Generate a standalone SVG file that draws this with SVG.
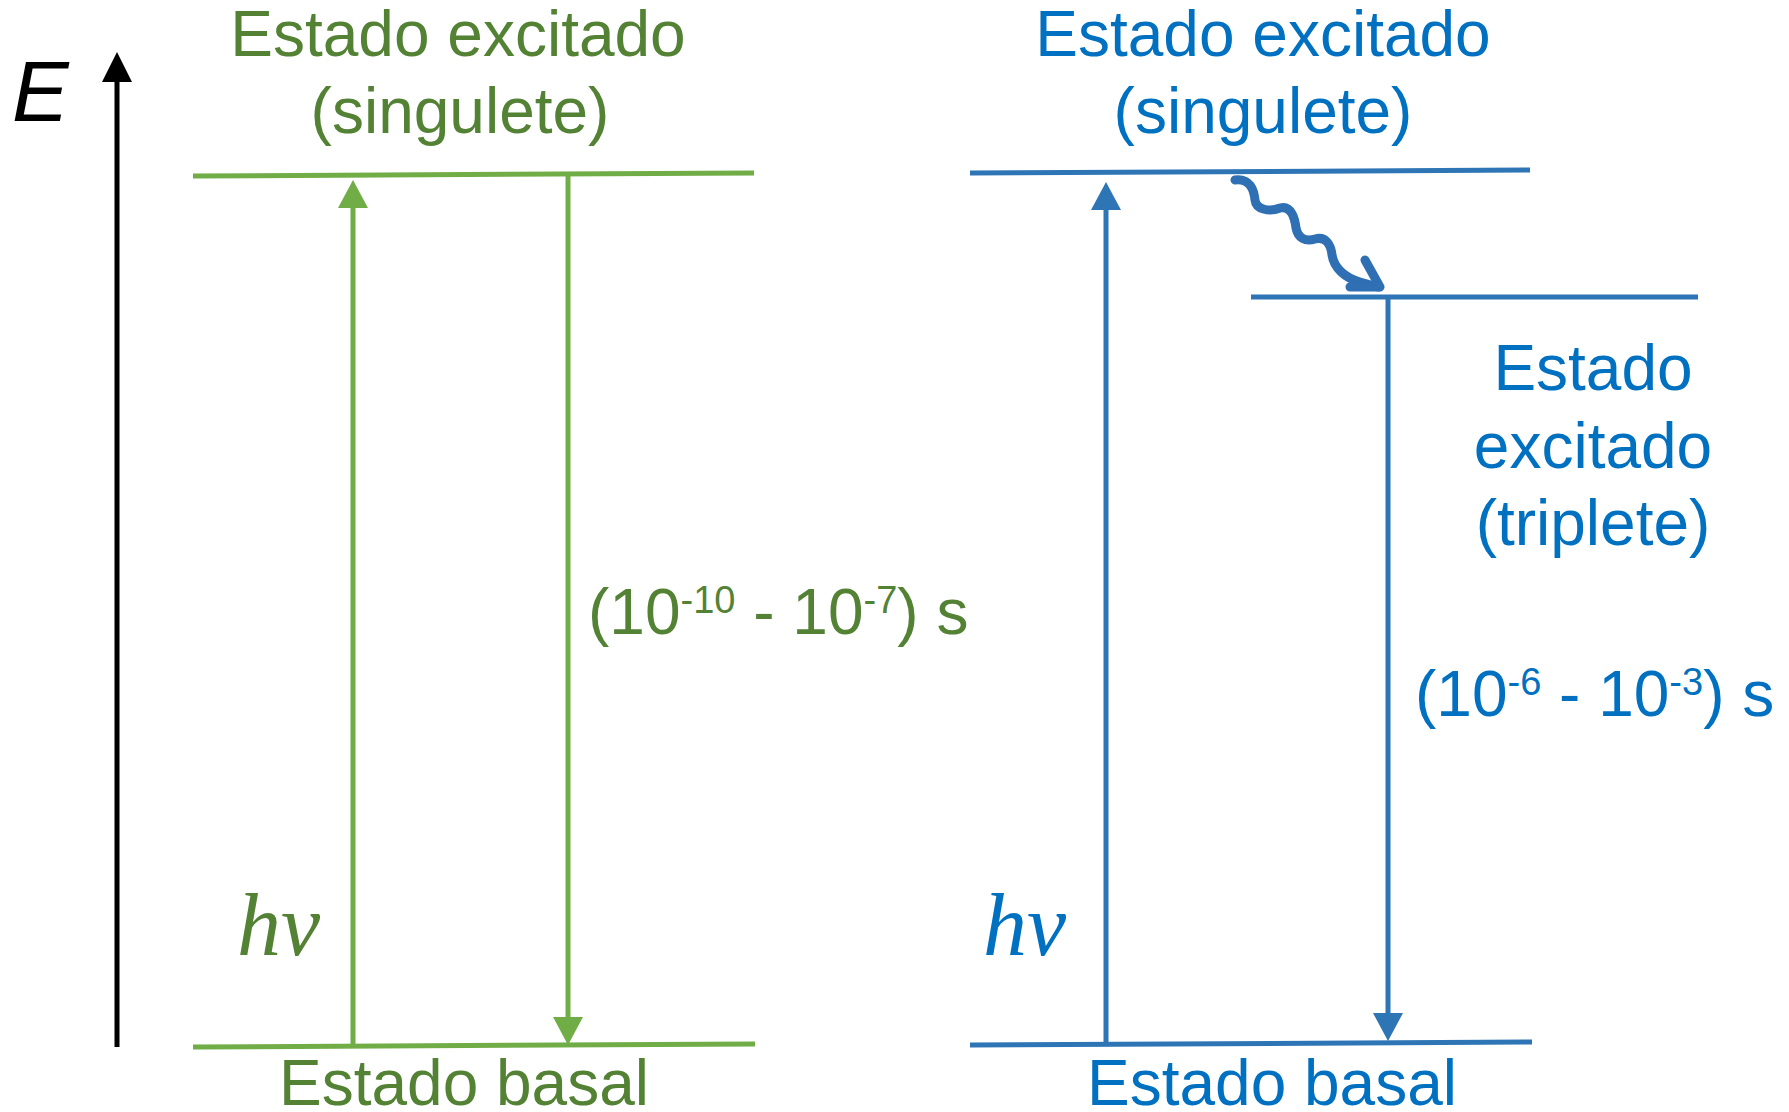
<svg xmlns="http://www.w3.org/2000/svg" width="1789" height="1112" viewBox="0 0 1789 1112">
<defs>
<style>
.t{font-family:"Liberation Sans",Arial,sans-serif;font-size:64px;text-anchor:middle}
.tl{font-family:"Liberation Sans",Arial,sans-serif;font-size:64px}
.g{fill:#548235}
.b{fill:#0070C0}
.hv{font-family:"Liberation Serif","Times New Roman",serif;font-style:italic;font-size:88px}
.lg{stroke:#70AD47;stroke-width:5;fill:none}
.lb{stroke:#2E75B6;stroke-width:5;fill:none}
.sup{font-size:38px}
.wave{fill:none;stroke:#2F6FB3;stroke-width:9;stroke-linecap:round;stroke-linejoin:round}
</style>
<marker id="ag" viewBox="0 0 28 30" refX="0" refY="15" markerWidth="28" markerHeight="30" markerUnits="userSpaceOnUse" orient="auto"><path d="M0,0 L28,15 L0,30 z" fill="#70AD47"/></marker>
<marker id="ab" viewBox="0 0 28 30" refX="0" refY="15" markerWidth="28" markerHeight="30" markerUnits="userSpaceOnUse" orient="auto"><path d="M0,0 L28,15 L0,30 z" fill="#2E75B6"/></marker>
<marker id="ak" viewBox="0 0 30 30" refX="0" refY="15" markerWidth="30" markerHeight="30" markerUnits="userSpaceOnUse" orient="auto"><path d="M0,0 L30,15 L0,30 z" fill="#000"/></marker>
</defs>
<rect width="1789" height="1112" fill="#fff"/>

<g id="axis">
<line x1="117" y1="1047" x2="117" y2="82" stroke="#000" stroke-width="5" marker-end="url(#ak)"/>
<text x="12" y="121" font-family="Liberation Sans,Arial,sans-serif" font-style="italic" font-size="85">E</text>
</g>

<g id="green-excited">
<line class="lg" x1="193" y1="176" x2="754" y2="173"/>
<text class="t g" x="458" y="56">Estado excitado</text>
<text class="t g" x="460" y="133">(singulete)</text>
</g>
<g id="green-ground">
<line class="lg" x1="193" y1="1047" x2="755" y2="1044"/>
<text class="t g" x="464" y="1105" font-size="63">Estado basal</text>
</g>

<g id="blue-excited">
<line class="lb" x1="970" y1="173" x2="1530" y2="170"/>
<text class="t b" x="1263" y="56">Estado excitado</text>
<text class="t b" x="1263" y="133">(singulete)</text>
</g>
<g id="blue-triplet">
<line class="lb" x1="1251" y1="297" x2="1698" y2="297"/>
<text class="t b" x="1593" y="390">Estado</text>
<text class="t b" x="1593" y="468">excitado</text>
<text class="t b" x="1593" y="545">(triplete)</text>
</g>
<g id="blue-ground">
<line class="lb" x1="970" y1="1045" x2="1532" y2="1042"/>
<text class="t b" x="1272" y="1105" font-size="63">Estado basal</text>
</g>

<g id="connectors">
<line class="lg" x1="353" y1="1046" x2="353" y2="208" marker-end="url(#ag)"/>
<line class="lg" x1="568" y1="174" x2="568" y2="1017" marker-end="url(#ag)"/>
<line class="lb" x1="1106" y1="1044" x2="1106" y2="210" marker-end="url(#ab)"/>
<line class="lb" x1="1388" y1="297" x2="1388" y2="1013" marker-end="url(#ab)"/>
<path class="wave" d="M1235,180 C1250,178 1254,190 1255,200 C1256,210 1270,212 1280,208 C1292,205 1295,220 1296,228 C1298,238 1305,242 1315,239 C1326,236 1331,245 1332,255 C1334,268 1345,278 1360,282 L1378,287"/>
<path class="wave" d="M1365,260 L1380,287 L1350,287"/>
</g>

<g id="labels">
<text class="hv g" x="237" y="955">hν</text>
<text class="hv b" x="983" y="955">hν</text>
<text class="tl g" x="588" y="634">(10<tspan class="sup" dy="-21">-10</tspan><tspan dy="21"> - 10</tspan><tspan class="sup" dy="-21">-7</tspan><tspan dy="21">) s</tspan></text>
<text class="tl b" x="1415" y="716">(10<tspan class="sup" dy="-21">-6</tspan><tspan dy="21"> - 10</tspan><tspan class="sup" dy="-21">-3</tspan><tspan dy="21">) s</tspan></text>
</g>
</svg>
